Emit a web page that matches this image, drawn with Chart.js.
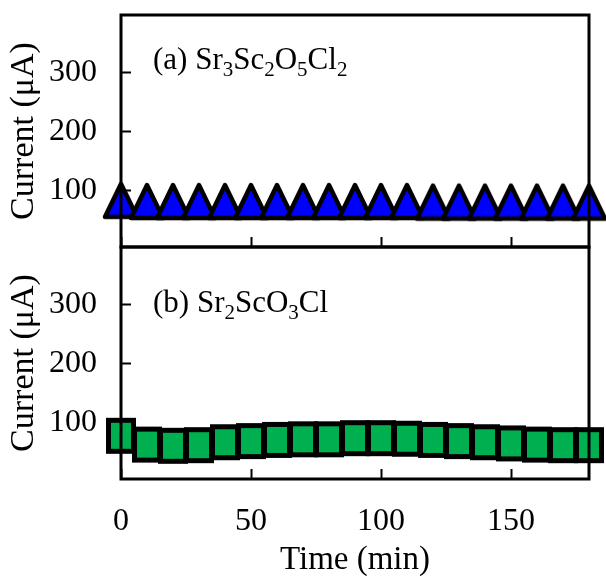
<!DOCTYPE html>
<html>
<head>
<meta charset="utf-8">
<script src="https://cdn.jsdelivr.net/npm/chart.js@4/dist/chart.umd.min.js"></script>
<style>
  html, body { margin: 0; padding: 0; background: #fff; }
  .wrap { position: relative; width: 606px; height: 578px; }
  .wrap canvas { position: absolute; left: 0; top: 0; }
</style>
</head>
<body>
<div class="wrap">
  <canvas id="top" width="606" height="262"></canvas>
  <canvas id="bottom" width="606" height="578"></canvas>
</div>
<script>
const times = [0, 10, 20, 30, 40, 50, 60, 70, 80, 90, 100, 110, 120, 130, 140, 150, 160, 170, 180];
const currentA = [82, 80, 80, 80, 80, 80, 80, 80, 80, 80, 80, 80, 79, 79, 79, 79, 79, 79, 79];
const currentB = [77, 62, 60, 61, 66, 68, 70, 71, 71, 73, 73, 72, 70, 68, 66, 64, 62, 61, 61];
const xTicks = [0, 50, 100, 150];
const yTicks = [100, 200, 300];
const labelA = [['(a) Sr', 0], ['3', 1], ['Sc', 0], ['2', 1], ['O', 0], ['5', 1], ['Cl', 0], ['2', 1]];
const labelB = [['(b) Sr', 0], ['2', 1], ['ScO', 0], ['3', 1], ['Cl', 0]];

const serif = '"Liberation Serif", "Times New Roman", serif';

// marker images (stretched like the original figure)
function triangleImg() {
  let c = document.createElement('canvas');
  c.width = 38; c.height = 42;
  let g = c.getContext('2d');
  g.beginPath();
  g.moveTo(19, 4); g.lineTo(35, 37); g.lineTo(3, 37); g.closePath();
  g.fillStyle = '#0000ff';
  g.fill();
  g.lineWidth = 4.5;
  g.lineJoin = 'round';
  g.strokeStyle = '#000';
  g.stroke();
  return c;
}
function squareImg() {
  let c = document.createElement('canvas');
  c.width = 32; c.height = 38;
  let g = c.getContext('2d');
  g.fillStyle = '#00b050';
  g.fillRect(3.5, 3.5, 25, 31);
  g.lineWidth = 5;
  g.strokeStyle = '#000';
  g.strokeRect(3.5, 3.5, 25, 31);
  return c;
}

const framePlugin = {
  id: 'frame',
  afterDraw(chart, args, opts) {
    let a = chart.chartArea, ctx = chart.ctx;
    ctx.save();
    ctx.strokeStyle = '#000';
    ctx.lineWidth = 3;
    ctx.strokeRect(a.left, a.top, a.right - a.left, a.bottom - a.top);
    // panel label with subscripts
    let x = a.left + opts.dx, y = a.top + opts.dy;
    ctx.fillStyle = '#000';
    ctx.textBaseline = 'alphabetic';
    for (let [t, sub] of opts.parts) {
      ctx.font = (sub ? '21px ' : '31px ') + serif;
      ctx.fillText(t, x, sub ? y + 7 : y);
      x += ctx.measureText(t).width;
    }
    ctx.restore();
  }
};

function makeChart(id, values, img, opts) {
  const points = times.map((t, i) => ({ x: t, y: values[i] }));
  return new Chart(document.getElementById(id), {
    type: 'scatter',
    data: {
      datasets: [{
        data: points,
        pointStyle: img,
        pointRadius: 12,
        pointHoverRadius: 12,
        clip: false,
        showLine: false
      }]
    },
    options: {
      responsive: false,
      animation: false,
      events: [],
      layout: { padding: { left: 0, right: 17, top: opts.top, bottom: 0 } },
      plugins: {
        legend: { display: false },
        tooltip: { enabled: false },
        frame: { dx: 32, dy: opts.labelDy, parts: opts.parts }
      },
      scales: {
        x: {
          type: 'linear',
          min: 0,
          max: 180,
          afterFit: s => { s.height = opts.xHeight; s.paddingLeft = 0; s.paddingRight = 0; },
          afterBuildTicks: s => { s.ticks = xTicks.map(v => ({ value: v })); },
          border: { display: false },
          grid: { drawOnChartArea: false, drawTicks: true, tickLength: -10, tickWidth: 2, tickColor: '#000' },
          ticks: { display: opts.showX, color: '#000', padding: 33, font: { family: serif, size: 32 } },
          title: { display: opts.showX, text: 'Time (min)', color: '#000', padding: { top: 0, bottom: -2 }, font: { family: serif, size: 33 } }
        },
        y: {
          min: 3.5,
          max: 398,
          afterFit: s => { s.width = 121; s.paddingTop = 0; s.paddingBottom = 0; },
          afterBuildTicks: s => { s.ticks = yTicks.map(v => ({ value: v })); },
          border: { display: false },
          grid: { drawOnChartArea: false, drawTicks: true, tickLength: -10, tickWidth: 2, tickColor: '#000' },
          ticks: { color: '#000', padding: 34, font: { family: serif, size: 32 } },
          title: { display: true, text: 'Current (μA)', color: '#000', padding: { top: 4, bottom: 0 }, font: { family: serif, size: 34 } }
        }
      }
    },
    plugins: [framePlugin]
  });
}

makeChart('top', currentA, triangleImg(), { top: 15, xHeight: 15, showX: false, labelDy: 54, parts: labelA });
makeChart('bottom', currentB, squareImg(), { top: 247, xHeight: 99, showX: true, labelDy: 65, parts: labelB });
</script>
</body>
</html>
